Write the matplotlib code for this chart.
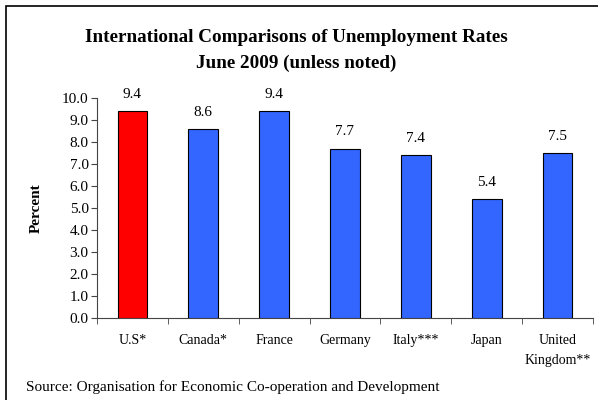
import matplotlib
matplotlib.use("Agg")
import matplotlib.pyplot as plt
from matplotlib.patches import Rectangle

countries = ["U.S*", "Canada*", "France", "Germany", "Italy***", "Japan", "United\nKingdom**"]
rates = [9.4, 8.6, 9.4, 7.7, 7.4, 5.4, 7.5]
colors = ["#FF0000", "#3366FF", "#3366FF", "#3366FF", "#3366FF", "#3366FF", "#3366FF"]
yticks = [0.0, 1.0, 2.0, 3.0, 4.0, 5.0, 6.0, 7.0, 8.0, 9.0, 10.0]

plt.rcParams['font.family'] = ['Liberation Serif', 'DejaVu Serif']

fig = plt.figure(figsize=(5.98, 4.0), dpi=100)
# outer frame (right/bottom edges cut off)
fig.patches.append(Rectangle((6/598, -0.1), 1.2, (394+40)/400, transform=fig.transFigure,
                             fill=False, edgecolor="black", linewidth=1.2))

ax = fig.add_axes([97/598, 82/400, 496/598, 220/400])
x = list(range(len(countries)))
ax.bar(x, rates, width=0.42, color=colors, edgecolor="black", linewidth=0.8, zorder=3)
for xi, r in zip(x, rates):
    ax.annotate(f"{r:.1f}", (xi, r), xytext=(0, 12), textcoords="offset points",
                ha="center", va="center", fontsize=11)

ax.set_xlim(-0.5, len(countries) - 0.5)
ax.set_ylim(0, 10)
ax.set_yticks(yticks)
ax.set_yticklabels([f"{v:.1f}" for v in yticks], fontsize=11)
ax.set_xticks(x)
ax.set_xticklabels(countries, fontsize=10, linespacing=1.75)
ax.set_xticks([i - 0.5 for i in range(len(countries) + 1)], minor=True)
ax.tick_params(axis="x", which="major", length=0, pad=11.5)
ax.tick_params(axis="x", which="minor", length=4, direction="out", color="#444444")
ax.tick_params(axis="y", length=4, direction="out", color="#444444", pad=2)
for s in ["top", "right"]:
    ax.spines[s].set_visible(False)
for s in ["left", "bottom"]:
    ax.spines[s].set_color("#444444")
    ax.spines[s].set_linewidth(0.8)
ax.set_ylabel("Percent", fontsize=11, fontweight="bold")
ax.yaxis.set_label_coords((43 - 97) / 496, 0.5)

fig.text(296/598, 1 - 37/400, "International Comparisons of Unemployment Rates",
         ha="center", va="center", fontsize=13.8, fontweight="bold")
fig.text(296/598, 1 - 63/400, "June 2009 (unless noted)",
         ha="center", va="center", fontsize=13.8, fontweight="bold")
fig.text(26/598, 1 - 387/400, "Source: Organisation for Economic Co-operation and Development",
         ha="left", va="center", fontsize=11)

fig.savefig("out.png", dpi=100)
